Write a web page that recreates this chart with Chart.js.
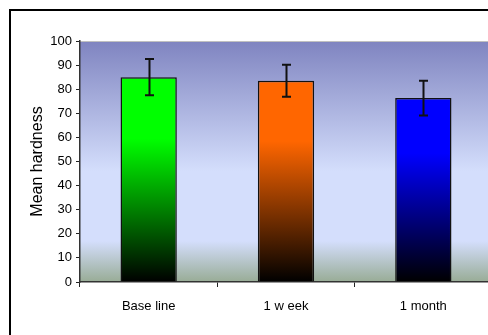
<!DOCTYPE html>
<html>
<head>
<meta charset="utf-8">
<script src="https://cdn.jsdelivr.net/npm/chart.js@4.4.0/dist/chart.umd.min.js"></script>
<style>
  html, body { margin: 0; padding: 0; background: #fff; overflow: hidden; width: 488px; height: 335px; }
  #frame { position: absolute; left: 9px; top: 9px; width: 600px; height: 400px; border: 2px solid #000; }
  #wrap { position: absolute; left: 0; top: 0; width: 500px; height: 335px; }
</style>
</head>
<body>
<div id="frame"></div>
<div id="wrap"><canvas id="chart" width="500" height="335"></canvas></div>
<script>
// ====== data ======
const categories = ["Base line", "1 w eek", "1 month"];
const meanHardness = [85, 83.5, 76.3];
const errorSize = [7.5, 6.6, 7.2];
const yTicks = [0, 10, 20, 30, 40, 50, 60, 70, 80, 90, 100];
const barColors = ["#00ff00", "#ff6600", "#0000ff"];

const TICK_FONT = { family: "'Liberation Sans', Arial, sans-serif", size: 13 };

// plot area background gradient
const plotBackground = {
  id: "plotBackground",
  beforeDraw(chart) {
    const { ctx, chartArea: a } = chart;
    const g = ctx.createLinearGradient(0, a.top, 0, a.bottom);
    g.addColorStop(0, "#7f84c0");
    g.addColorStop(0.54, "#d4defc");
    g.addColorStop(0.83, "#d4defc");
    g.addColorStop(1, "#98ac96");
    ctx.save();
    ctx.fillStyle = g;
    ctx.fillRect(a.left, a.top, a.right - a.left, a.bottom - a.top);
    ctx.strokeStyle = "#c0c0c0";
    ctx.lineWidth = 1;
    ctx.beginPath();
    ctx.moveTo(a.left, a.top + 0.5);
    ctx.lineTo(a.right, a.top + 0.5);
    ctx.stroke();
    ctx.restore();
  }
};

// error bars drawn from the data through the scales
const errorBars = {
  id: "errorBars",
  afterDatasetsDraw(chart) {
    const { ctx, scales } = chart;
    const meta = chart.getDatasetMeta(0);
    ctx.save();
    ctx.strokeStyle = "#111";
    ctx.lineWidth = 2;
    meta.data.forEach((bar, i) => {
      const x = Math.round(bar.x) + 0.5;
      const yHi = scales.y.getPixelForValue(meanHardness[i] + errorSize[i]);
      const yLo = scales.y.getPixelForValue(meanHardness[i] - errorSize[i]);
      ctx.beginPath();
      ctx.moveTo(x, yHi);
      ctx.lineTo(x, yLo);
      ctx.moveTo(x - 4.5, yHi);
      ctx.lineTo(x + 4.5, yHi);
      ctx.moveTo(x - 4.5, yLo);
      ctx.lineTo(x + 4.5, yLo);
      ctx.stroke();
    });
    ctx.restore();
  }
};

function barGradient(context) {
  const chart = context.chart;
  const a = chart.chartArea;
  if (!a) return barColors[context.dataIndex];
  const y = chart.scales.y;
  const top = y.getPixelForValue(meanHardness[context.dataIndex]);
  const g = chart.ctx.createLinearGradient(0, top, 0, a.bottom);
  const c = barColors[context.dataIndex];
  g.addColorStop(0, c);
  g.addColorStop(0.3, c);
  g.addColorStop(1, "#000000");
  return g;
}

new Chart(document.getElementById("chart"), {
  type: "bar",
  data: {
    labels: categories,
    datasets: [{
      data: meanHardness,
      backgroundColor: barGradient,
      borderColor: "#111",
      borderWidth: 1.5,
      categoryPercentage: 0.82,
      barPercentage: 0.5
    }]
  },
  options: {
    responsive: false,
    animation: false,
    devicePixelRatio: 1,
    layout: { padding: { left: 0, top: 41, right: 8, bottom: 0 } },
    plugins: {
      legend: { display: false },
      tooltip: { enabled: false }
    },
    scales: {
      x: {
        afterFit: s => { s.height = 53; },
        grid: {
          offset: true,
          drawOnChartArea: false,
          drawTicks: true,
          tickLength: 5,
          color: "#222"
        },
        border: { color: "#333", width: 1.5 },
        ticks: { color: "#000", font: TICK_FONT, padding: 12 }
      },
      y: {
        min: 0,
        max: 100,
        afterFit: s => { s.width = 80; },
        afterBuildTicks: s => { s.ticks = yTicks.map(v => ({ value: v })); },
        grid: {
          drawOnChartArea: false,
          drawTicks: true,
          tickLength: 4,
          color: "#222"
        },
        border: { color: "#333", width: 1.5 },
        ticks: { color: "#000", font: TICK_FONT, padding: 4 },
        title: {
          display: true,
          text: "Mean hardness",
          color: "#000",
          font: { family: "'Liberation Sans', Arial, sans-serif", size: 16 },
          padding: { top: 28, bottom: 0 }
        }
      }
    }
  },
  plugins: [plotBackground, errorBars]
});
</script>
</body>
</html>
